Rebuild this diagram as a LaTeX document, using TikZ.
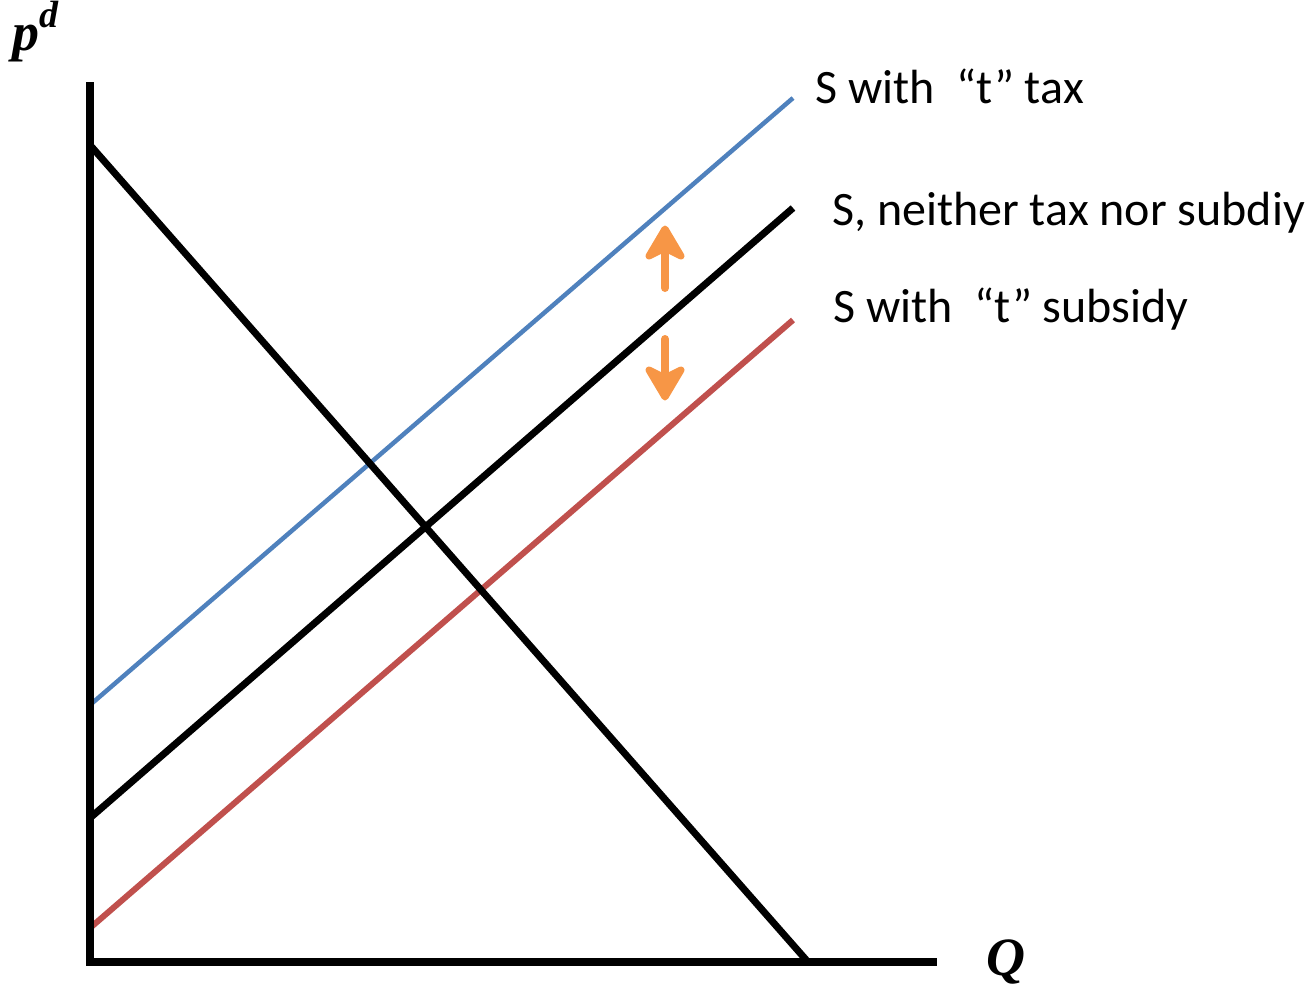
\documentclass[tikz,border=0pt]{standalone}
\usepackage{fontspec}
\setmainfont{Carlito}
\newfontfamily\axisfont{Liberation Serif}
\definecolor{taxblue}{HTML}{4F81BD}
\definecolor{subred}{HTML}{C0504D}
\definecolor{arrorange}{HTML}{F79646}
\tikzset{
  axisline/.style={line width=7.5pt, black},
  curve/.style={line width=7pt},
  shaft/.style={line width=8pt, arrorange, line cap=round},
  head/.style={fill=arrorange, draw=arrorange, line width=7pt, line join=round},
  lbl/.style={anchor=base west, inner sep=0pt, font=\fontsize{48}{54}\selectfont},
  axlbl/.style={inner sep=0pt, font=\axisfont\bfseries\itshape\fontsize{54}{60}\selectfont}
}
\begin{document}
\begin{tikzpicture}[x=1pt,y=-1pt]
\useasboundingbox (0,0) rectangle (1309,986);
% coordinates
\coordinate (ytop) at (90,82);
\coordinate (origin) at (90,962);
\coordinate (xend) at (937,962);
\coordinate (d1) at (90,145);
\coordinate (d2) at (808,962);
\coordinate (t1) at (90,705);
\coordinate (t2) at (793,98);
\coordinate (s1) at (90,818);
\coordinate (s2) at (793,208);
\coordinate (r1) at (90,928);
\coordinate (r2) at (793,320);
\coordinate (ua) at (665,288);
\coordinate (ub) at (665,246);
\coordinate (da) at (665,339);
\coordinate (db) at (665,379);
% curves
\draw[curve, taxblue, line width=4.5pt] (t1) -- (t2);
\draw[curve, subred, line width=6pt] (r1) -- (r2);
\draw[curve, black] (s1) -- (s2);
\draw[curve, black] (d1) -- (d2);
% axes
\draw[axisline] (ytop) -- (origin) -- (xend);
% arrows
\draw[shaft] (ua) -- (ub);
\filldraw[head] (665,229) -- (681,256) -- (665,248) -- (649,256) -- cycle;
\draw[shaft] (da) -- (db);
\filldraw[head] (665,397) -- (681,370) -- (665,378) -- (649,370) -- cycle;
% labels
\node[lbl] (ltax) at (815,103) {S with\hspace{0.45em}“t” tax};
\node[lbl] (lnone) at (832,225) {S, neither tax nor subdiy};
\node[lbl] (lsub) at (833,322) {S with\hspace{0.45em}“t” subsidy};
\node[axlbl, anchor=base west] (pd) at (12,50) {p\raisebox{0.42em}{\fontsize{38}{42}\selectfont d}};
\node[axlbl, anchor=base west] (q) at (986,975) {Q};
\end{tikzpicture}
\end{document}
